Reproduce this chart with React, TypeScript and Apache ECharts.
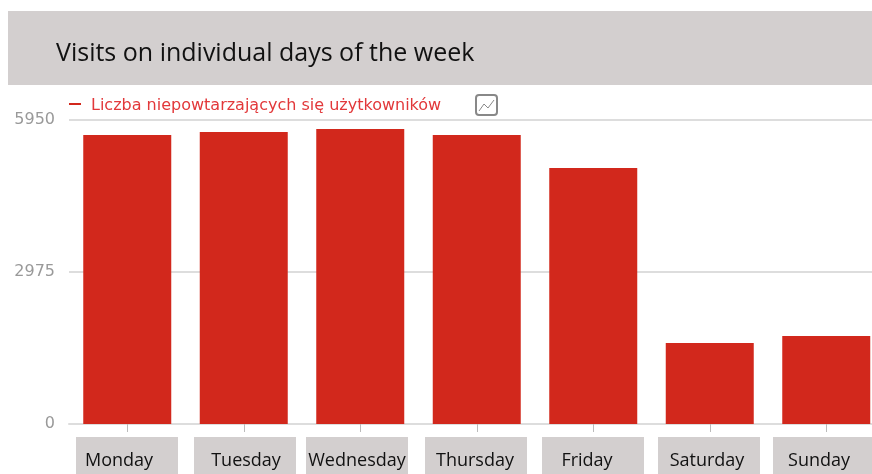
import React, { useEffect, useRef } from "react";
import * as echarts from "echarts";

const titleText = "Visits on individual days of the week";
const seriesName = "Liczba niepowtarzających się użytkowników";
const categories = ["Monday", "Tuesday", "Wednesday", "Thursday", "Friday", "Saturday", "Sunday"];
const visits = [5656, 5715, 5775, 5656, 5010, 1585, 1722];
const boxLefts = [76, 194, 306, 425, 542, 658, 773];
const labelCentres = [119, 246, 357, 475, 587, 707, 819];

const RED = "#d2281c";
const PANEL = "#d3cfcf";

export default function App() {
  const ref = useRef<HTMLDivElement>(null);
  useEffect(() => {
    document.body.style.margin = "0";
    document.body.style.overflow = "hidden";
    const chart = echarts.init(ref.current!, null, { renderer: "svg" });
    chart.setOption({
      animation: false,
      backgroundColor: "#ffffff",
      legend: {
        left: 69,
        top: 96,
        padding: 0,
        itemWidth: 12,
        itemHeight: 2,
        itemGap: 0,
        icon: "rect",
        selectedMode: false,
        textStyle: { color: "#e2383a", fontFamily: "DejaVu Sans", fontSize: 16, padding: [0, 0, 0, 5] },
        data: [seriesName],
      },
      grid: { left: 69, top: 120, width: 815.5, height: 304, outerBoundsMode: "none" },
      xAxis: {
        type: "category",
        data: categories,
        axisLine: { lineStyle: { color: "#dddddd", width: 2 } },
        axisTick: { show: true, alignWithLabel: true, length: 8, lineStyle: { color: "#bbbbbb", width: 1 } },
        axisLabel: { show: false },
      },
      yAxis: {
        type: "value",
        min: 0,
        max: 5950,
        interval: 2975,
        axisLine: { show: false },
        axisTick: { show: false },
        splitLine: { lineStyle: { color: "#dddddd", width: 2 } },
        axisLabel: {
          color: "#999999",
          fontFamily: "DejaVu Sans",
          fontSize: 16,
          margin: 14,
          formatter: (v: number) => String(v),
          verticalAlign: "bottom",
          lineHeight: 4,
        },
      },
      series: [
        {
          name: seriesName,
          type: "bar",
          data: visits,
          barWidth: 88,
          itemStyle: { color: RED },
        },
      ],
      graphic: [
        { type: "rect", z: 10, shape: { x: 8, y: 11, width: 864, height: 74 }, style: { fill: PANEL } },
        {
          type: "text",
          z: 11,
          x: 56,
          y: 51,
          style: {
            text: titleText,
            fill: "#111111",
            font: '500 25px "Open Sans"',
            textVerticalAlign: "middle",
          },
        },
        {
          type: "rect",
          z: 11,
          shape: { x: 476, y: 95, width: 21, height: 20, r: 3 },
          style: { fill: "#ffffff", stroke: "#888888", lineWidth: 2 },
        },
        {
          type: "polyline",
          z: 12,
          shape: { points: [[479, 111], [484, 104], [488, 108], [494, 100]] },
          style: { fill: "none", stroke: "#888888", lineWidth: 1 },
        },
        ...categories.flatMap((name, i) => [
          {
            type: "rect",
            z: 10,
            shape: { x: boxLefts[i], y: 437, width: 102, height: 37 },
            style: { fill: PANEL },
          },
          {
            type: "text",
            z: 11,
            x: labelCentres[i],
            y: 459,
            style: {
              text: name,
              fill: "#111111",
              font: '500 18px "Open Sans"',
              textAlign: "center",
              textVerticalAlign: "middle",
            },
          },
        ]),
      ],
    });
    return () => chart.dispose();
  }, []);
  return (
    <div
      ref={ref}
      style={{ position: "absolute", left: 0, top: 0, width: 872, height: 474, filter: "blur(0.6px)" }}
    />
  );
}
